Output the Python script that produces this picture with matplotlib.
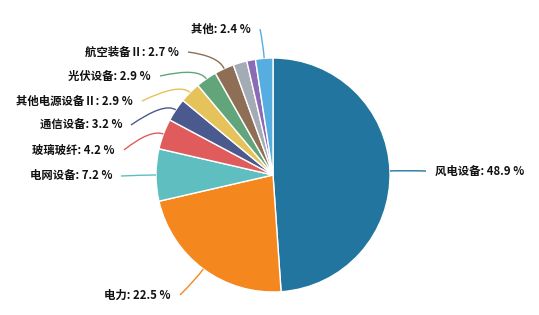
import numpy as np
import matplotlib.pyplot as plt
from matplotlib.path import Path
from matplotlib.patches import PathPatch

plt.rcParams['font.family'] = ['Noto Sans CJK SC', 'DejaVu Sans']

names = ['风电设备', '电力', '电网设备', '玻璃玻纤', '通信设备', '其他电源设备Ⅱ',
         '光伏设备', '航空装备Ⅱ', '', '', '其他']
values = [48.9, 22.5, 7.2, 4.2, 3.2, 2.9, 2.9, 2.7, 1.9, 1.2, 2.4]
colors = ['#21759f', '#f5871f', '#5fbfc0', '#e05c5c', '#4a5a8f', '#e5c35a',
          '#62a57a', '#8e6f55', '#a3abb5', '#8a6bb5', '#55aedf']

# label anchor (pixel coords of the leader-line end, label side)
label_pos = {
    '风电设备': (426, 171, 'left'),
    '电力': (180, 295, 'right'),
    '电网设备': (121, 176, 'right'),
    '玻璃玻纤': (124, 150, 'right'),
    '通信设备': (131, 125, 'right'),
    '其他电源设备Ⅱ': (142, 101, 'right'),
    '光伏设备': (160, 76, 'right'),
    '航空装备Ⅱ': (188, 52, 'right'),
    '其他': (260, 29, 'right'),
}

W, H = 539, 315
fig = plt.figure(figsize=(W / 100, H / 100), dpi=100)
ax = fig.add_axes([0, 0, 1, 1])

cx, cy, r = 273, H - 175, 117
wedges, _ = ax.pie(values, colors=colors, startangle=90, counterclock=False,
                   center=(cx, cy), radius=r, frame=True,
                   wedgeprops=dict(edgecolor='white', linewidth=1))
ax.set_xlim(0, W)
ax.set_ylim(0, H)
ax.set_aspect('equal')
ax.axis('off')

for w, name, v, c in zip(wedges, names, values, colors):
    if not name:
        continue
    th = np.deg2rad((w.theta1 + w.theta2) / 2)
    p0 = (cx + r * np.cos(th), cy + r * np.sin(th))
    p1 = (cx + (r + 14) * np.cos(th), cy + (r + 14) * np.sin(th))
    lx, ly, side = label_pos[name]
    p2 = (lx, H - ly)
    path = Path([p0, p1, p2], [Path.MOVETO, Path.CURVE3, Path.CURVE3])
    ax.add_patch(PathPatch(path, fill=False, edgecolor=c, lw=1))
    tx = lx + 9 if side == 'left' else lx - 9
    ax.text(tx, H - ly, f'{name}: {v} %', ha=side, va='center',
            fontsize=8.2, fontweight='bold', color='#111111')

fig.savefig('out.png', dpi=100)
